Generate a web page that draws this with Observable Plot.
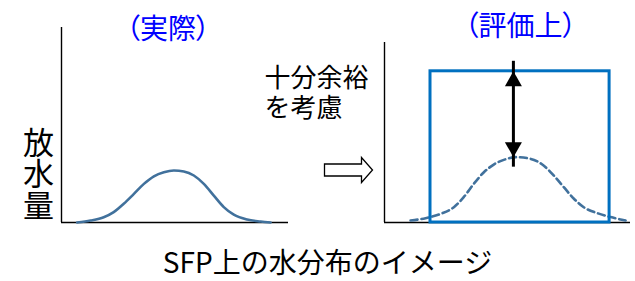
<!DOCTYPE html>
<html><head><meta charset="utf-8">
<script src="https://cdn.jsdelivr.net/npm/d3@7"></script>
<script src="https://cdn.jsdelivr.net/npm/@observablehq/plot@0.6"></script>
<style>
html,body{margin:0;padding:0;background:#fff;}
#root{position:relative;width:635px;height:281px;overflow:hidden;font-family:"Noto Sans CJK JP",sans-serif;}
#root svg{position:absolute;top:0;}
#caption{position:absolute;left:0;top:247px;width:635px;text-align:center;padding-left:20px;box-sizing:border-box;font-size:28px;line-height:28px;color:#000;white-space:nowrap;}
</style></head><body><div id="root"></div>
<script>
// Texts
const titles = ["（実際）", "（評価上）"];
const yLabel = "放水量";
const note = "十分余裕\nを考慮";
const caption = "SFP上の水分布のイメージ";

// Actual distribution (left): position along SFP vs water amount
const actualPos   = [6.9, 12.8, 18.6, 23.0, 27.4, 31.9, 36.3, 40.7, 45.1, 49.5, 53.9, 58.3, 62.7, 67.1, 71.5, 75.9, 81.8, 87.7, 92.1];
const actualWater = [0, 1.0, 2.7, 5.3, 9.6, 14.7, 19.8, 23.7, 25.8, 26.7, 26.2, 24.1, 19.8, 13.8, 7.9, 4.0, 1.5, 0.5, 0];

// Evaluated distribution (right)
const evalPos   = [10.6, 16.7, 22.8, 28.2, 32.2, 36.3, 40.4, 44.4, 48.5, 53.7, 59.3, 64.8, 68.8, 72.9, 77.0, 81.0, 86.5, 91.9, 98.0];
const evalWater = [1.1, 2.4, 4.8, 8.5, 14.1, 21.5, 27.9, 32.2, 34.8, 36.3, 35.4, 31.5, 26.1, 19.6, 13.2, 8.5, 5.2, 3.0, 1.1];

// Evaluation envelope (box) and margin arrow
const boxPos = [18.7, 91.5];
const boxTop = [84];
const arrowPos = [52.4];

const font = "'Noto Sans CJK JP', sans-serif";
const styleBase = {background: "transparent", overflow: "visible", fontFamily: font, color: "#000"};
const axisColor = "#000";
const curveColor = "#41719c";
const boxColor = "#0070c0";
const titleColor = "#0000ff";

const upHead = {draw(ctx){ ctx.moveTo(0,0); ctx.lineTo(8.5,15); ctx.lineTo(-8.5,15); ctx.closePath(); }};
const downHead = {draw(ctx){ ctx.moveTo(0,0); ctx.lineTo(8.5,-15); ctx.lineTo(-8.5,-15); ctx.closePath(); }};
const hollowArrow = {draw(ctx){
  ctx.moveTo(-24,-6); ctx.lineTo(13,-6); ctx.lineTo(13,-12.5); ctx.lineTo(24,0);
  ctx.lineTo(13,12.5); ctx.lineTo(13,6); ctx.lineTo(-24,6); ctx.closePath();
}};

const actual = actualPos.map((x, i) => ({x, y: actualWater[i]}));
const evaluated = evalPos.map((x, i) => ({x, y: evalWater[i]}));
const peak = d3.max(evalWater);

const left = Plot.plot({
  width: 300, height: 235,
  marginLeft: 61, marginRight: 12, marginTop: 27, marginBottom: 13,
  x: {domain: [0, 100], axis: null},
  y: {domain: [0, 100], axis: null},
  style: styleBase,
  marks: [
    Plot.ruleX([0], {stroke: axisColor, strokeWidth: 1.4}),
    Plot.ruleY([0], {stroke: axisColor, strokeWidth: 1.4}),
    Plot.line(actual, {x: "x", y: "y", curve: "monotone-x", stroke: curveColor, strokeWidth: 2.6}),
    Plot.text([titles[0]], {text: d => d, frameAnchor: "top", lineAnchor: "middle", dx: -7, dy: 3, fontSize: 28, fill: titleColor}),
    Plot.text([yLabel.split("").join("\n")], {text: d => d, frameAnchor: "left", lineAnchor: "middle", dx: -23, dy: 50, textAnchor: "middle", fontSize: 31, lineHeight: 1.02, fill: "#000"})
  ]
});

const right = Plot.plot({
  width: 380, height: 235,
  marginLeft: 129, marginRight: 5, marginTop: 42, marginBottom: 13,
  x: {domain: [0, 100], axis: null},
  y: {domain: [0, 100], axis: null},
  style: styleBase,
  marks: [
    Plot.ruleX([0], {stroke: axisColor, strokeWidth: 1.4}),
    Plot.ruleY([0], {stroke: axisColor, strokeWidth: 1.4}),
    Plot.line(evaluated, {x: "x", y: "y", curve: "monotone-x", stroke: curveColor, strokeWidth: 2.6, strokeDasharray: "7,4"}),
    Plot.rect([boxPos], {x1: d => d[0], x2: d => d[1], y1: 0, y2: boxTop[0], fill: "none", stroke: boxColor, strokeWidth: 3}),
    Plot.ruleX(arrowPos, {x: d => d, y1: peak, y2: boxTop[0], stroke: "#000", strokeWidth: 3, insetTop: 10, insetBottom: 10}),
    Plot.dot(arrowPos, {x: d => d, y: boxTop[0], symbol: upHead, r: 5, fill: "#000", stroke: "none"}),
    Plot.dot(arrowPos, {x: d => d, y: peak, symbol: downHead, r: 5, fill: "#000", stroke: "none"}),
    Plot.dot([0], {x: 0, y: 0, dx: -36, dy: -52.5, symbol: hollowArrow, r: 5, fill: "#fff", stroke: "#000", strokeWidth: 1.3}),
    Plot.text([note], {text: d => d, frameAnchor: "top-left", lineAnchor: "middle", dx: -120, dy: 50, textAnchor: "start", fontSize: 26, lineHeight: 1.15, fill: "#000"}),
    Plot.text([titles[1]], {text: d => d, frameAnchor: "top", lineAnchor: "middle", dx: 13, dy: -15, fontSize: 28, fill: titleColor})
  ]
});
right.style.left = "255px";
left.style.left = "0px";

const root = document.getElementById("root");
root.append(left, right);
for (const svg of [left, right]) {
  d3.select(svg).selectAll("text").filter(function(){ return this.textContent.includes("（"); })
    .style("font-feature-settings", '"palt"');
}
const cap = document.createElement("div");
cap.id = "caption";
cap.textContent = caption;
root.append(cap);
</script>
</body></html>
